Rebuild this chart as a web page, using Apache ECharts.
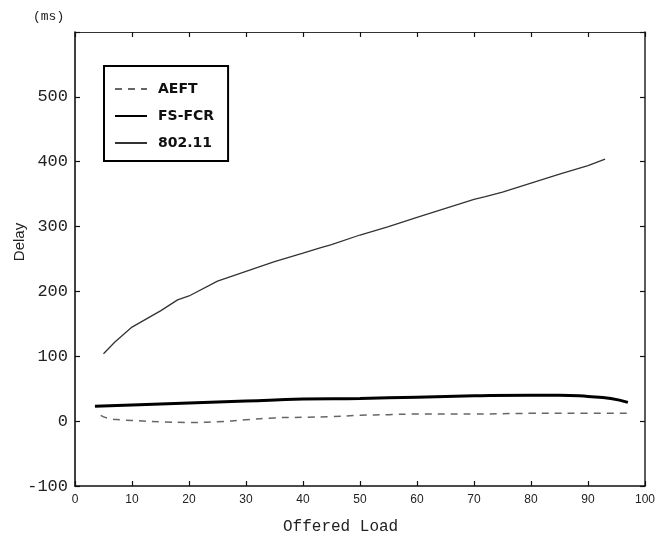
<!DOCTYPE html>
<html>
<head>
<meta charset="utf-8">
<script src="https://cdn.jsdelivr.net/npm/echarts@6/dist/echarts.min.js"></script>
<style>html,body{margin:0;padding:0;background:#fff;}#c{width:661px;height:543px;}</style>
</head>
<body>
<div id="c"></div>
<script>
var xTicks = [0, 10, 20, 30, 40, 50, 60, 70, 80, 90, 100];
var yTicks = [-100, 0, 100, 200, 300, 400, 500];

var aeftX = [4.5, 6, 8, 10, 15, 20, 25, 30, 35, 40, 45, 50, 55, 60, 70, 80, 90, 97];
var aeftY = [9, 4, 2, 1, -1, -2, -1, 2, 5, 6, 7, 9, 10, 11, 11, 12, 12, 12];

var fsX = [3.5, 10, 20, 30, 40, 50, 60, 70, 80, 85, 90, 94, 97];
var fsY = [23, 25, 28, 31, 34, 35, 37, 39, 40, 40, 38, 35, 29];

var w80211X = [5, 7, 10, 13, 15, 18, 20, 25, 30, 35, 40, 43, 45, 50, 55, 60, 65, 70, 72, 75, 80, 85, 90, 93];
var w80211Y = [104, 122, 145, 160, 170, 187, 193, 216, 231, 246, 259, 267, 272, 287, 300, 314, 328, 342, 346, 353, 367, 381, 394, 404];

function pairs(xs, ys) { return xs.map(function (x, i) { return [x, ys[i]]; }); }

var chart = echarts.init(document.getElementById('c'), null, {renderer: 'canvas'});
var axisLine = {show: true, onZero: false, lineStyle: {color: '#111', width: 1.6}};
var tick = {show: true, inside: true, length: 5, lineStyle: {color: '#111', width: 1.2}};
chart.setOption({
  animation: false,
  backgroundColor: '#fff',
  grid: {left: 75, right: 16, top: 32, bottom: 57, containLabel: false, outerBoundsMode: 'none'},
  legend: {
    orient: 'vertical', left: 104, top: 66,
    itemWidth: 32, itemHeight: 14, itemGap: 13,
    padding: [16, 14, 11, 10],
    borderColor: '#000', borderWidth: 2,
    itemStyle: {opacity: 0},
    textStyle: {fontFamily: 'DejaVu Sans', fontWeight: 'bold', fontSize: 14, color: '#111', padding: [0, 0, 0, 6]},
    data: ['AEFT', 'FS-FCR', '802.11']
  },
  graphic: [
    {type: 'text', left: 33, top: 10, style: {text: '(ms)', font: '13px "Liberation Mono"', fill: '#222'}},
    {type: 'text', left: 283, top: 519, style: {text: 'Offered Load', font: '16px "Liberation Mono"', fill: '#222'}},
    {type: 'text', x: 20, y: 242, rotation: Math.PI / 2,
      style: {text: 'Delay', font: '15px "Liberation Sans"', fill: '#222', align: 'center', verticalAlign: 'middle'}}
  ],
  xAxis: [{
    type: 'value', min: 0, max: 100, interval: 10,
    axisLine: axisLine, axisTick: tick, splitLine: {show: false},
    axisLabel: {margin: 8, fontFamily: 'Liberation Sans', fontSize: 12, color: '#222'}
  }, {
    type: 'value', position: 'top', min: 0, max: 100, interval: 10,
    axisLine: {show: true, onZero: false, lineStyle: {color: '#333', width: 1.2}}, axisTick: tick,
    axisLabel: {show: false}, splitLine: {show: false}
  }],
  yAxis: [{
    type: 'value', min: -100, max: 600, interval: 100,
    axisLine: axisLine, axisTick: tick, splitLine: {show: false},
    axisLabel: {margin: 7, fontFamily: 'Liberation Mono', fontSize: 17, color: '#222',
      formatter: function (v) { return yTicks.indexOf(v) >= 0 ? String(v) : ''; }}
  }, {
    type: 'value', position: 'right', min: -100, max: 600, interval: 100,
    axisLine: {show: true, onZero: false, lineStyle: {color: '#333', width: 1.6}}, axisTick: tick,
    axisLabel: {show: false}, splitLine: {show: false}
  }],
  series: [{
    name: 'AEFT', type: 'line', symbol: 'none', smooth: true,
    data: pairs(aeftX, aeftY),
    itemStyle: {color: '#666'},
    lineStyle: {color: '#666', width: 1.5, type: [7, 6]}
  }, {
    name: 'FS-FCR', type: 'line', symbol: 'none', smooth: true,
    data: pairs(fsX, fsY),
    itemStyle: {color: '#000'},
    lineStyle: {color: '#000', width: 3}
  }, {
    name: '802.11', type: 'line', symbol: 'none', smooth: false,
    data: pairs(w80211X, w80211Y),
    itemStyle: {color: '#333'},
    lineStyle: {color: '#333', width: 1.3}
  }]
});
</script>
</body>
</html>
